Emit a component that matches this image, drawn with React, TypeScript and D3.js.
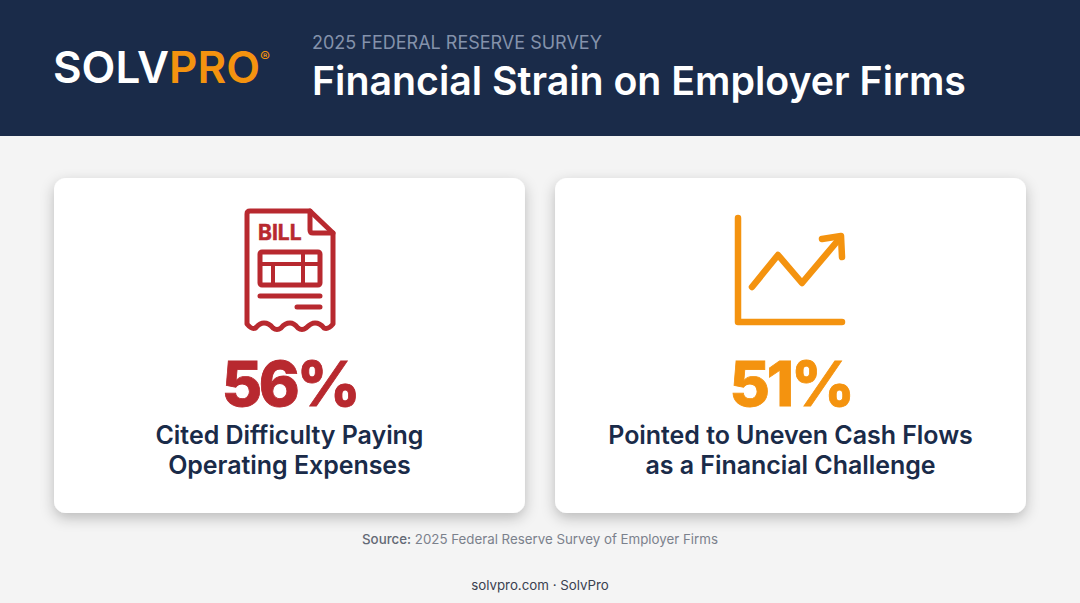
import React, { useEffect, useRef } from 'react';
import * as d3 from 'd3';

const cardIds = ['expenses', 'cashflow'];
const statValues = [56, 51];
const statColors = ['#b8292f', '#f4930f'];
const statLabels = [
  ['Cited Difficulty Paying', 'Operating Expenses'],
  ['Pointed to Uneven Cash Flows', 'as a Financial Challenge'],
];

const WIDTH = 1080;
const HEIGHT = 603;
const FONT = 'Inter, "Noto Sans", sans-serif';

export default function App() {
  const svgRef = useRef<SVGSVGElement>(null);

  useEffect(() => {
    if (!svgRef.current) return;
    const svg = d3.select(svgRef.current);
    svg.selectAll('*').remove();

    const shadow = svg.append('defs').append('filter')
      .attr('id', 'card-shadow')
      .attr('x', '-10%').attr('y', '-10%')
      .attr('width', '120%').attr('height', '125%');
    shadow.append('feDropShadow')
      .attr('dx', 0).attr('dy', 5)
      .attr('stdDeviation', 7)
      .attr('flood-color', '#000')
      .attr('flood-opacity', 0.24);

    // background + header
    svg.append('rect').attr('width', WIDTH).attr('height', HEIGHT).attr('fill', '#f4f4f4');
    svg.append('rect').attr('width', WIDTH).attr('height', 136).attr('fill', '#1a2b49');

    const logo = svg.append('text')
      .attr('x', 53).attr('y', 83)
      .style('font-family', FONT)
      .style('font-size', '44px')
      .style('font-weight', 600);
    logo.append('tspan').attr('fill', '#ffffff').text('SOLV');
    logo.append('tspan').attr('fill', '#f4930f').text('PRO');
    // registered mark sits in the same line so it stays clear of the O
    logo.append('tspan')
      .attr('dy', -21)
      .attr('fill', '#f4930f')
      .style('font-size', '15px')
      .style('font-weight', 400)
      .text('®');

    svg.append('text')
      .attr('x', 312).attr('y', 49)
      .attr('fill', '#8492ab')
      .style('font-family', FONT)
      .style('font-size', '18px')
      .text('2025 FEDERAL RESERVE SURVEY');
    svg.append('text')
      .attr('x', 312).attr('y', 95)
      .attr('fill', '#ffffff')
      .style('font-family', FONT)
      .style('font-size', '39.300px')
      .style('font-weight', 600)
      .text('Financial Strain on Employer Firms');

    // cards
    const x = d3.scaleBand<string>()
      .domain(cardIds)
      .range([54, 1026])
      .paddingInner(0.06);

    const cards = svg.selectAll('g.card')
      .data(cardIds)
      .join('g')
      .attr('class', 'card')
      .attr('transform', d => `translate(${x(d)},178)`);

    cards.append('rect')
      .attr('width', x.bandwidth())
      .attr('height', 335)
      .attr('rx', 12)
      .attr('fill', '#ffffff')
      .attr('filter', 'url(#card-shadow)');

    cards.append('text')
      .attr('x', x.bandwidth() / 2)
      .attr('y', 228)
      .attr('text-anchor', 'middle')
      .attr('fill', (_, i) => statColors[i])
      .style('font-family', FONT)
      .style('font-size', '62px')
      .style('font-weight', 800)
      .attr('letter-spacing', -3.2)
      .attr('stroke', (_, i) => statColors[i])
      .attr('stroke-width', 0.8)
      .text((_, i) => `${statValues[i]}%`);

    cards.each(function (_, i) {
      d3.select(this).selectAll('text.label')
        .data(statLabels[i])
        .join('text')
        .attr('class', 'label')
        .attr('x', x.bandwidth() / 2)
        .attr('y', (_, j) => 266 + j * 30)
        .attr('text-anchor', 'middle')
        .attr('fill', '#1a2b49')
        .attr('letter-spacing', -0.05)
        .style('font-family', FONT)
        .style('font-size', '25px')
        .style('font-weight', 600)
        .text(d => d);
    });

    // bill icon
    const bill = svg.append('g')
      .attr('fill', 'none')
      .attr('stroke', statColors[0])
      .attr('stroke-width', 5)
      .attr('stroke-linecap', 'round')
      .attr('stroke-linejoin', 'round');
    bill.append('path').attr('d',
      'M310 211H250Q247 211 247 214V324Q252 330 255.500 328Q260 323 264 323Q269 323 273 328Q277 331 281 328Q285 323 290 323Q294 323 298 328Q302 331 306 328Q311 323 315 323Q320 323 324 328Q328 330 333 324V233Z');
    bill.append('path').attr('d', 'M310 211V230Q310 233 313 233H333');
    bill.append('rect').attr('x', 260).attr('y', 252).attr('width', 60).attr('height', 33).attr('rx', 2);
    bill.append('path').attr('stroke-width', 4).attr('d', 'M260 264H320M273 264V285M303 252V285');
    bill.append('path').attr('d', 'M260 296H320M297 307H320');
    svg.append('text')
      .attr('x', 258).attr('y', 240)
      .attr('fill', statColors[0])
      .attr('stroke', statColors[0])
      .attr('stroke-width', 0.5)
      .style('font-family', FONT)
      .style('font-size', '21px')
      .style('font-weight', 700)
      .text('BILL');

    // growth chart icon
    const growth = svg.append('g')
      .attr('fill', 'none')
      .attr('stroke', statColors[1])
      .attr('stroke-width', 6.500)
      .attr('stroke-linecap', 'round')
      .attr('stroke-linejoin', 'round');
    growth.append('path').attr('d', 'M738 218V322H842');
    growth.append('path').attr('d', 'M752 287L778 255L802 283L840 238');
    growth.append('path').attr('d', 'M822 239L841 236L842 257');

    // footer
    const source = svg.append('text')
      .attr('x', 540).attr('y', 544)
      .attr('text-anchor', 'middle')
      .attr('fill', '#7b818c')
      .style('font-family', FONT)
      .style('font-size', '13.300px');
    source.append('tspan').attr('fill', '#636975').style('font-weight', 500).text('Source:');
    source.append('tspan').text(' 2025 Federal Reserve Survey of Employer Firms');

    svg.append('text')
      .attr('x', 540).attr('y', 590)
      .attr('text-anchor', 'middle')
      .attr('fill', '#3a4150')
      .style('font-family', FONT)
      .style('font-size', '13.300px')
      .text('solvpro.com · SolvPro');
  }, []);

  return (
    <svg
      ref={svgRef}
      width={WIDTH}
      height={HEIGHT}
      style={{ position: 'absolute', left: 0, top: 0 }}
    />
  );
}
